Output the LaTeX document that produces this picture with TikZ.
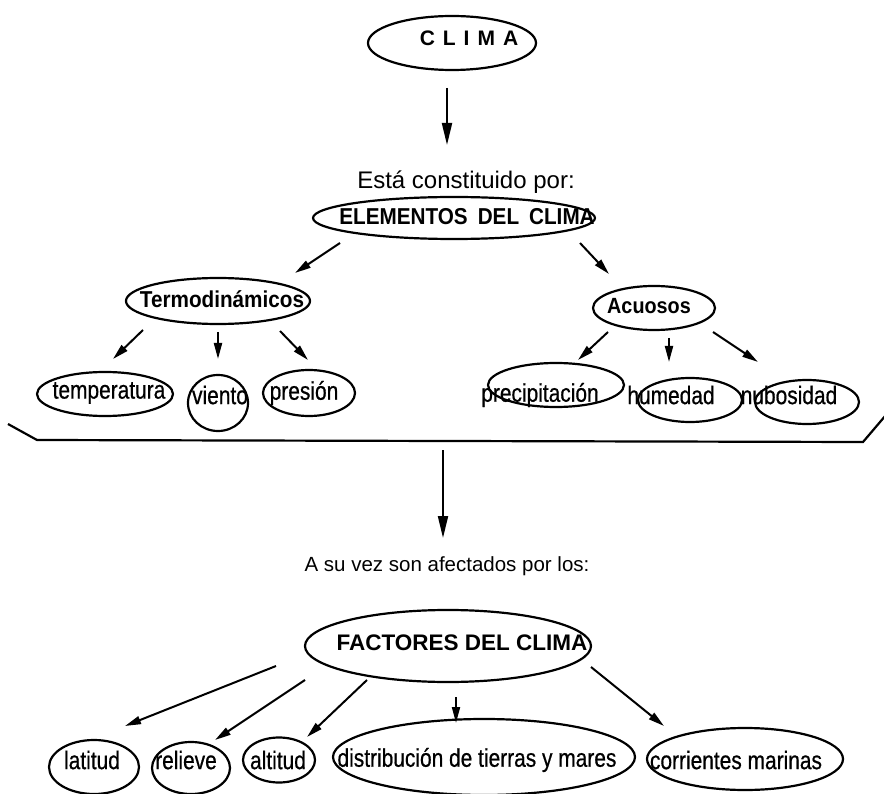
\documentclass[tikz,border=0pt]{standalone}
\usepackage{fontspec}
\setmainfont{Liberation Sans}
\newfontfamily\narrowfont{Liberation Sans}[FakeStretch=0.82,FakeBold=0.6]
\newfontfamily\narrowbold{Liberation Sans Bold}[FakeStretch=0.9]
\usetikzlibrary{shapes.geometric,arrows.meta}
\begin{document}
\begin{tikzpicture}[x=1pt,y=-1pt,
  ell/.style={draw, ellipse, line width=2.2pt, inner sep=0pt},
  lab/.style={inner sep=0pt, font=\narrowfont\fontsize{25.5}{28}\selectfont},
  blab/.style={inner sep=0pt, font=\fontsize{21}{24}\selectfont\bfseries},
  arr/.style={line width=2pt, -{Triangle[length=16pt,width=8pt]}},
  bigarr/.style={line width=2pt, -{Triangle[length=22pt,width=10pt]}},
  brk/.style={line width=2.2pt}]
\useasboundingbox (0,0) rectangle (884,794);
% top
\node[ell, minimum width=168pt, minimum height=54pt] (clima) at (452,43) {};
\node[blab] (climaT) at (469,38) {C\hspace{8pt}L\hspace{8pt}I\hspace{8pt}M\hspace{8pt}A};
\coordinate (a1s) at (447,88); \coordinate (a1e) at (447,145);
\draw[bigarr] (a1s) -- (a1e);
\node[inner sep=0pt, font=\fontsize{24}{27}\selectfont] (esta) at (466,182) {Está constituido por:};
\node[ell, minimum width=282pt, minimum height=42pt] (elem) at (454,218) {};
\node[inner sep=0pt, font=\narrowbold\fontsize{23}{26}\selectfont] (elemT) at (467,217) {ELEMENTOS\hspace{10pt}DEL\hspace{10pt}CLIMA};
\coordinate (a2s) at (340,243); \coordinate (a2e) at (295,273);
\coordinate (a3s) at (580,243); \coordinate (a3e) at (609,274);
\draw[arr] (a2s) -- (a2e);
\draw[arr] (a3s) -- (a3e);
% second level
\node[ell, minimum width=184pt, minimum height=46pt] (termo) at (218,301) {};
\node[inner sep=0pt, font=\narrowbold\fontsize{23}{26}\selectfont] (termoT) at (222,299) {Termodinámicos};
\node[ell, minimum width=122pt, minimum height=44pt] (acuo) at (654,308) {};
\node[inner sep=0pt, font=\narrowbold\fontsize{22}{26}\selectfont] (acuoT) at (649,306) {Acuosos};
\coordinate (b1s) at (143,330); \coordinate (b1e) at (113,359);
\coordinate (b2s) at (218,332); \coordinate (b2e) at (218,359);
\coordinate (b3s) at (280,331); \coordinate (b3e) at (308,360);
\coordinate (c1s) at (608,332); \coordinate (c1e) at (578,360);
\coordinate (c2s) at (669,338); \coordinate (c2e) at (669,362);
\coordinate (c3s) at (713,332); \coordinate (c3e) at (758,362);
\foreach \p in {b1,b2,b3,c1,c2,c3} \draw[arr] (\p s) -- (\p e);
% third level
\node[ell, minimum width=136pt, minimum height=44pt] (temp) at (105,394) {};
\node[lab] (tempT) at (109,393) {temperatura};
\node[ell, minimum width=60pt, minimum height=56pt] (vien) at (218,403) {};
\node[lab] (vienT) at (220,395) {viento};
\node[ell, minimum width=92pt, minimum height=46pt] (pres) at (309,393) {};
\node[lab] (presT) at (304,393) {presión};
\node[ell, minimum width=136pt, minimum height=44pt] (prec) at (556,385) {};
\node[lab] (precT) at (540,395) {precipitación};
\node[ell, minimum width=104pt, minimum height=44pt] (hume) at (690,400) {};
\node[lab] (humeT) at (671,395) {humedad};
\node[ell, minimum width=104pt, minimum height=44pt] (nubo) at (807,402) {};
\node[lab] (nuboT) at (789,395) {nubosidad};
% bracket
\coordinate (k1) at (8,424); \coordinate (k2) at (37,440);
\coordinate (k3) at (863,442); \coordinate (k4) at (886,415);
\draw[brk] (k1) -- (k2) -- (k3) -- (k4);
\coordinate (a4s) at (443,450); \coordinate (a4e) at (443,538);
\draw[bigarr] (a4s) -- (a4e);
\node[inner sep=0pt, font=\fontsize{20.5}{24}\selectfont] (asu) at (447,566) {A su vez son afectados por los:};
% factores
\node[ell, minimum width=286pt, minimum height=72pt] (fact) at (448,646) {};
\node[blab, font=\fontsize{22.5}{26}\selectfont\bfseries] (factT) at (462,643) {FACTORES DEL CLIMA};
\coordinate (d1s) at (276,666); \coordinate (d1e) at (125,726);
\coordinate (d2s) at (305,680); \coordinate (d2e) at (215,740);
\coordinate (d3s) at (367,680); \coordinate (d3e) at (307,737);
\coordinate (d4s) at (456,697); \coordinate (d4e) at (456,723);
\coordinate (d5s) at (591,667); \coordinate (d5e) at (664,726);
\foreach \p in {d1,d2,d3,d4,d5} \draw[arr] (\p s) -- (\p e);
\node[ell, minimum width=90pt, minimum height=54pt] (lati) at (94,767) {};
\node[lab] (latiT) at (92,760) {latitud};
\node[ell, minimum width=78pt, minimum height=52pt] (reli) at (191,768) {};
\node[lab] (reliT) at (186,760) {relieve};
\node[ell, minimum width=72pt, minimum height=45pt] (alti) at (279,760) {};
\node[lab] (altiT) at (278,760) {altitud};
\node[ell, minimum width=302pt, minimum height=76pt] (dist) at (484,757) {};
\node[lab] (distT) at (477,760) {distribución de tierras y mares};
\node[ell, minimum width=196pt, minimum height=62pt] (corr) at (745,759) {};
\node[lab] (corrT) at (736,760) {corrientes marinas};
\end{tikzpicture}
\end{document}
